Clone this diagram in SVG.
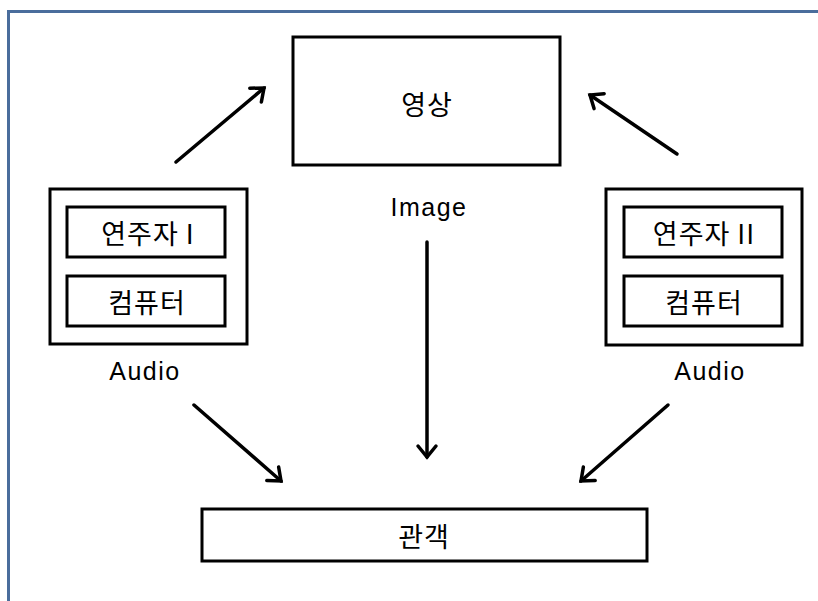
<svg xmlns="http://www.w3.org/2000/svg" width="818" height="601" viewBox="0 0 818 601">
  <defs>
    <style>
      .box { fill: #ffffff; stroke: #000000; stroke-width: 3; }
      .lbl { font-family: "Noto Sans CJK KR", "Liberation Sans", sans-serif; font-size: 27px; letter-spacing: 1px; fill: #000000; text-anchor: middle; dominant-baseline: central; }
      .cap { font-family: "Liberation Sans", "Noto Sans CJK KR", sans-serif; font-size: 25px; letter-spacing: 1.5px; fill: #000000; text-anchor: middle; dominant-baseline: central; }
      .arrow { fill: none; stroke: #000000; stroke-width: 3.5; stroke-linecap: round; marker-end: url(#head); }
    </style>
    <marker id="head" markerUnits="userSpaceOnUse" markerWidth="30" markerHeight="30" refX="15" refY="15" orient="auto" viewBox="0 0 30 30">
      <path d="M4,6 L15,15 L4,24" fill="none" stroke="#000000" stroke-width="3.5" stroke-linecap="round" stroke-linejoin="miter"/>
    </marker>
  </defs>

  <rect width="818" height="601" fill="#ffffff"/>
  <!-- outer frame -->
  <path d="M8.5,620 L8.5,11.5 L830,11.5" fill="none" stroke="#4a6d9c" stroke-width="3"/>

  <g id="image">
    <rect class="box" x="293" y="37" width="267" height="128"/>
    <text class="lbl" x="427" y="103">영상</text>
    <text class="cap" x="429" y="207">Image</text>
  </g>

  <g id="audio-left">
    <rect class="box" x="50" y="189" width="197" height="155"/>
    <rect class="box" x="67" y="207" width="158" height="50"/>
    <text class="lbl" x="148" y="232">연주자 I</text>
    <rect class="box" x="67" y="276" width="158" height="50"/>
    <text class="lbl" x="147" y="301">컴퓨터</text>
    <text class="cap" x="145" y="371">Audio</text>
  </g>

  <g id="audio-right">
    <rect class="box" x="606" y="189" width="196" height="156"/>
    <rect class="box" x="624" y="207" width="158" height="50"/>
    <text class="lbl" x="704" y="232">연주자 II</text>
    <rect class="box" x="624" y="276" width="158" height="50"/>
    <text class="lbl" x="704" y="301">컴퓨터</text>
    <text class="cap" x="710" y="371">Audio</text>
  </g>

  <g id="audience">
    <rect class="box" x="202" y="509" width="445" height="52"/>
    <text class="lbl" x="424" y="535">관객</text>
  </g>

  <g id="connectors">
    <line class="arrow" x1="176" y1="162" x2="264" y2="88"/>
    <line class="arrow" x1="677" y1="154" x2="590" y2="95"/>
    <line class="arrow" x1="427" y1="242" x2="427" y2="457"/>
    <line class="arrow" x1="194" y1="405" x2="281" y2="481"/>
    <line class="arrow" x1="668" y1="405" x2="581" y2="481"/>
  </g>
</svg>
